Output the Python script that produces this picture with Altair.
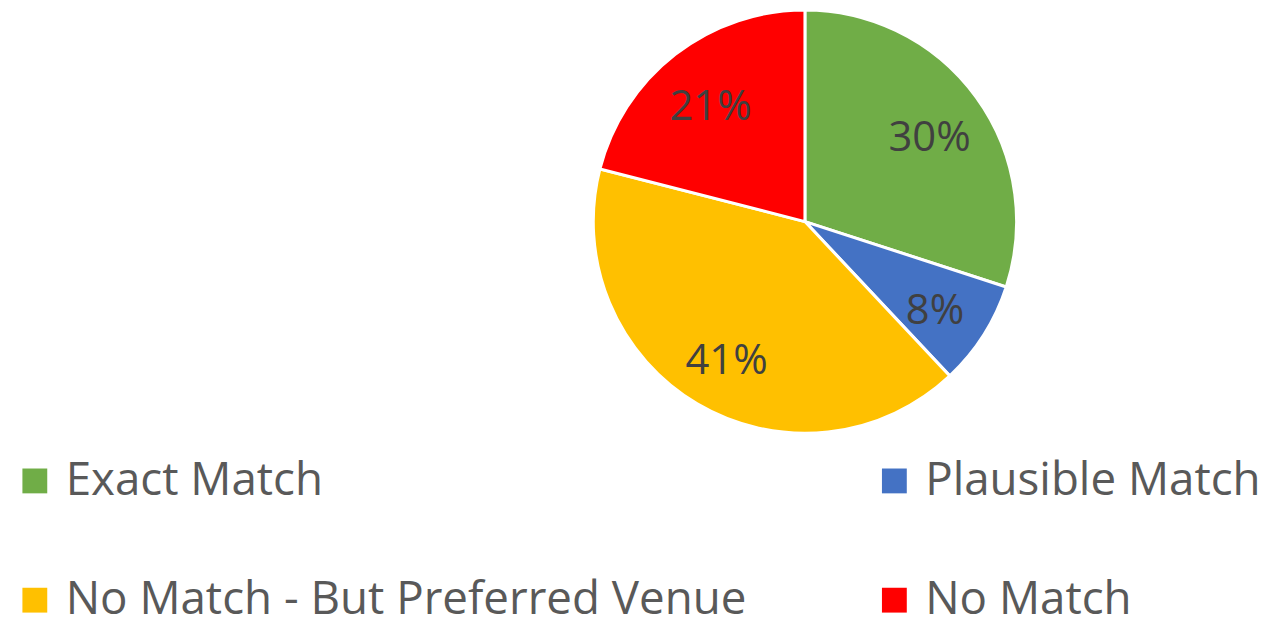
import altair as alt
import pandas as pd

categories = ["Exact Match", "Plausible Match", "No Match - But Preferred Venue", "No Match"]
shares = [30, 8, 41, 21]
labels = ["30%", "8%", "41%", "21%"]
colors = ["#70AD47", "#4472C4", "#FFC000", "#FF0000"]
legend_order = ["Exact Match", "No Match - But Preferred Venue", "Plausible Match", "No Match"]

df = pd.DataFrame({
    "category": categories,
    "share": shares,
    "label": labels,
    "order": list(range(len(categories))),
})

FONT = "Open Sans"
CX, CY = 802, 213

base = alt.Chart(df).encode(
    theta=alt.Theta("share:Q", stack=True),
    order=alt.Order("order:Q"),
)

pie = base.mark_arc(outerRadius=213, stroke="white", strokeWidth=3).encode(
    x=alt.value(CX),
    y=alt.value(CY),
    color=alt.Color(
        "category:N",
        scale=alt.Scale(domain=categories, range=colors),
        legend=alt.Legend(
            title=None,
            values=legend_order,
            orient="none",
            legendX=4,
            legendY=451,
            columns=2,
            columnPadding=125,
            rowPadding=74,
            symbolType="square",
            symbolSize=625,
            symbolStrokeWidth=0,
            labelFont=FONT,
            labelFontSize=46,
            labelColor="#595959",
            labelOffset=8,
            labelLimit=900,
            padding=0,
        ),
    ),
)

text = base.mark_text(radius=155, font=FONT, fontSize=42, color="#404040", dy=7).encode(
    x=alt.value(CX),
    y=alt.value(CY),
    text="label:N",
)

chart = (
    alt.layer(pie, text)
    .properties(width=1266, height=609, autosize=alt.AutoSizeParams(type="none"), padding=0)
    .configure_view(stroke=None)
)

chart.save("out.html", embed_options={"renderer": "svg", "actions": False})
